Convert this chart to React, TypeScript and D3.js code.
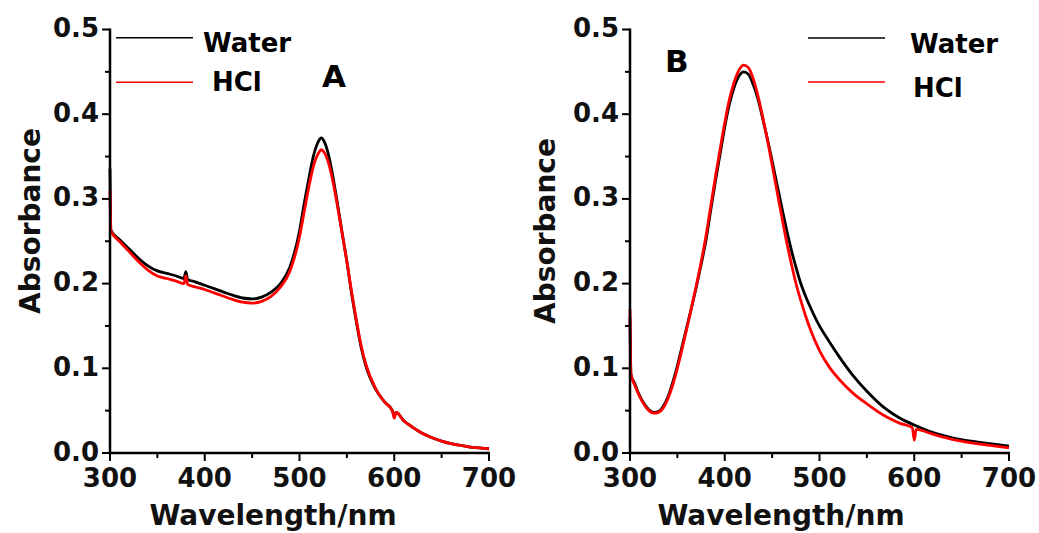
import React from "react";
import * as d3 from "d3";

// ---------- data ----------
const xTicks = [300, 400, 500, 600, 700];
const xMinor = [350, 450, 550, 650];
const yTicks = [0.0, 0.1, 0.2, 0.3, 0.4, 0.5];
const yMinor = [0.05, 0.15, 0.25, 0.35, 0.45];
const seriesNames = ["Water", "HCl"];
const seriesColors = ["#000000", "#ff0000"];

const waterA: [number, number][] = [
  [300, 0.336], [301, 0.263], [310, 0.252], [320, 0.241], [330, 0.230], [340, 0.221],
  [350, 0.215], [360, 0.212], [370, 0.209], [378, 0.206], [380, 0.214], [382, 0.205],
  [390, 0.202], [400, 0.198], [410, 0.194], [420, 0.190], [430, 0.186], [440, 0.183],
  [450, 0.182], [460, 0.184], [470, 0.190], [480, 0.200], [490, 0.220], [500, 0.262],
  [505, 0.295], [510, 0.325], [515, 0.352], [520, 0.368], [523, 0.372], [526, 0.368],
  [530, 0.355], [535, 0.328], [540, 0.295], [545, 0.260], [550, 0.226], [555, 0.188],
  [560, 0.155], [565, 0.125], [570, 0.103], [580, 0.076], [590, 0.060], [598, 0.050],
  [600, 0.044], [602, 0.048], [610, 0.038], [620, 0.030], [630, 0.023], [640, 0.018],
  [650, 0.014], [660, 0.011], [670, 0.009], [680, 0.007], [690, 0.006], [700, 0.005],
];
const hclA: [number, number][] = [
  [300, 0.310], [301, 0.262], [310, 0.250], [320, 0.238], [330, 0.226], [340, 0.216],
  [350, 0.209], [360, 0.206], [370, 0.203], [378, 0.200], [380, 0.209], [382, 0.199],
  [390, 0.196], [400, 0.193], [410, 0.189], [420, 0.185], [430, 0.181], [440, 0.178],
  [450, 0.177], [460, 0.179], [470, 0.185], [480, 0.196], [490, 0.215], [500, 0.255],
  [505, 0.285], [510, 0.315], [515, 0.340], [520, 0.354], [523, 0.358], [526, 0.355],
  [530, 0.345], [535, 0.322], [540, 0.292], [545, 0.259], [550, 0.226], [555, 0.190],
  [560, 0.157], [565, 0.127], [570, 0.105], [580, 0.077], [590, 0.060], [598, 0.050],
  [600, 0.041], [602, 0.048], [610, 0.038], [620, 0.030], [630, 0.023], [640, 0.018],
  [650, 0.014], [660, 0.011], [670, 0.009], [680, 0.007], [690, 0.006], [700, 0.005],
];
const waterB: [number, number][] = [
  [300, 0.160], [301, 0.093], [305, 0.082], [310, 0.068], [315, 0.058], [320, 0.051],
  [325, 0.048], [330, 0.049], [335, 0.055], [340, 0.066], [345, 0.083], [350, 0.103],
  [355, 0.126], [360, 0.149], [365, 0.172], [370, 0.196], [375, 0.222], [380, 0.250],
  [385, 0.285], [390, 0.320], [395, 0.352], [400, 0.385], [405, 0.412], [410, 0.432],
  [415, 0.445], [420, 0.450], [425, 0.447], [430, 0.435], [435, 0.418], [440, 0.395],
  [445, 0.371], [450, 0.345], [455, 0.318], [460, 0.291], [465, 0.265], [470, 0.241],
  [475, 0.220], [480, 0.201], [485, 0.186], [490, 0.173], [500, 0.150], [510, 0.132],
  [520, 0.115], [535, 0.092], [550, 0.073], [570, 0.052], [585, 0.041], [600, 0.033],
  [620, 0.024], [640, 0.018], [660, 0.014], [680, 0.011], [700, 0.008],
];
const hclB: [number, number][] = [
  [300, 0.170], [301, 0.093], [305, 0.080], [310, 0.067], [315, 0.057], [320, 0.050],
  [325, 0.047], [330, 0.048], [335, 0.053], [340, 0.064], [345, 0.080], [350, 0.100],
  [355, 0.123], [360, 0.147], [365, 0.172], [370, 0.198], [375, 0.225], [380, 0.255],
  [385, 0.290], [390, 0.325], [395, 0.358], [400, 0.390], [405, 0.418], [410, 0.438],
  [415, 0.452], [420, 0.458], [425, 0.455], [430, 0.442], [435, 0.422], [440, 0.397],
  [445, 0.370], [450, 0.340], [455, 0.310], [460, 0.280], [465, 0.251], [470, 0.225],
  [475, 0.201], [480, 0.181], [485, 0.163], [490, 0.147], [500, 0.121], [510, 0.102],
  [520, 0.088], [535, 0.071], [550, 0.058], [570, 0.043], [585, 0.035], [598, 0.030],
  [600, 0.015], [602, 0.028], [620, 0.022], [640, 0.016], [660, 0.012], [680, 0.009],
  [700, 0.006],
];

const FONT = "'DejaVu Sans', Verdana, sans-serif";

type PanelProps = {
  x0: number;
  letter: string;
  letterPos: [number, number];
  legendX: number;
  legendTextX: [number, number];
  legendY: [number, number];
  legendTextY: [number, number];
  yLabelY: number;
  yLabelX: number;
  xLabelX: number;
  series: [number, number][][];
};

function Panel(p: PanelProps) {
  const x = d3.scaleLinear().domain([300, 700]).range([p.x0, p.x0 + 379]);
  const y = d3.scaleLinear().domain([0, 0.5]).range([453, 29.5]);
  const line = d3
    .line<[number, number]>()
    .x((d) => x(d[0]))
    .y((d) => y(d[1]))
    .curve(d3.curveMonotoneX);
  const axisW = 2.5;
  return (
    <g>
      {p.series.map((s, i) => (
        <path key={i} d={line(s) || ""} fill="none" stroke={seriesColors[i]} strokeWidth={2.8} strokeLinejoin="round" />
      ))}
      {/* axes */}
      <line x1={x(300)} x2={x(300)} y1={y(0) + 1} y2={y(0.5) - 1} stroke="#000" strokeWidth={axisW} />
      <line x1={x(300) - 1} x2={x(700) + 1} y1={y(0)} y2={y(0)} stroke="#000" strokeWidth={axisW} />
      {yTicks.map((t) => (
        <g key={"yt" + t}>
          <line x1={x(300) - 8} x2={x(300)} y1={y(t)} y2={y(t)} stroke="#000" strokeWidth={2} />
          <text x={x(300) - 11} y={y(t) + 7.5} textAnchor="end" fontFamily={FONT} fontWeight="bold" fontSize={26} fill="#111">
            {t.toFixed(1)}
          </text>
        </g>
      ))}
      {yMinor.map((t) => (
        <line key={"ym" + t} x1={x(300) - 5} x2={x(300)} y1={y(t)} y2={y(t)} stroke="#000" strokeWidth={2} />
      ))}
      {xTicks.map((t) => (
        <g key={"xt" + t}>
          <line x1={x(t)} x2={x(t)} y1={y(0)} y2={y(0) + 8} stroke="#000" strokeWidth={2} />
          <text x={x(t)} y={y(0) + 34} textAnchor="middle" fontFamily={FONT} fontWeight="bold" fontSize={26} fill="#111">
            {t}
          </text>
        </g>
      ))}
      {xMinor.map((t) => (
        <line key={"xm" + t} x1={x(t)} x2={x(t)} y1={y(0)} y2={y(0) + 5} stroke="#000" strokeWidth={2} />
      ))}
      {/* axis titles */}
      <text x={p.xLabelX} y={525} textAnchor="middle" fontFamily={FONT} fontWeight="bold" fontSize={28} fill="#111">
        Wavelength/nm
      </text>
      <text
        transform={`translate(${p.yLabelX},${p.yLabelY}) rotate(-90)`}
        textAnchor="middle"
        fontFamily={FONT}
        fontWeight="bold"
        fontSize={28}
        fill="#111"
      >
        Absorbance
      </text>
      {/* legend */}
      {seriesNames.map((n, i) => (
        <g key={n}>
          <line x1={p.legendX} x2={p.legendX + 77} y1={p.legendY[i]} y2={p.legendY[i]} stroke={seriesColors[i]} strokeWidth={1.6} />
          <text x={p.legendTextX[i]} y={p.legendTextY[i]} fontFamily={FONT} fontWeight="bold" fontSize={26} fill="#000">
            {n}
          </text>
        </g>
      ))}
      <text x={p.letterPos[0]} y={p.letterPos[1]} fontFamily={FONT} fontWeight="bold" fontSize={31} fill="#000">
        {p.letter}
      </text>
    </g>
  );
}

export default function App() {
  return (
    <svg width={1039} height={533} style={{ position: "absolute", left: 0, top: 0, background: "#fff" }}>
      <rect width={1039} height={533} fill="#fff" />
      <Panel
        x0={110}
        letter="A"
        letterPos={[322, 87]}
        legendX={116}
        legendTextX={[203, 212]}
        legendY={[37.7, 82.3]}
        legendTextY={[51.5, 91]}
        yLabelY={221}
        yLabelX={40}
        xLabelX={273}
        series={[waterA, hclA]}
      />
      <Panel
        x0={630}
        letter="B"
        letterPos={[665, 72]}
        legendX={808}
        legendTextX={[910, 913]}
        legendY={[38, 82]}
        legendTextY={[52.5, 97]}
        yLabelY={231}
        yLabelX={555}
        xLabelX={781}
        series={[waterB, hclB]}
      />
    </svg>
  );
}
